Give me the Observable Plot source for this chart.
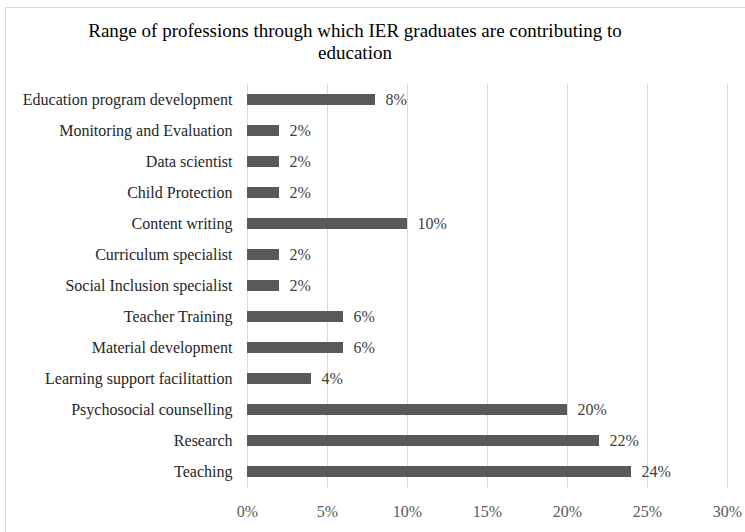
<!DOCTYPE html>
<html>
<head>
<meta charset="utf-8">
<script src="https://cdn.jsdelivr.net/npm/d3@7"></script>
<script src="https://cdn.jsdelivr.net/npm/@observablehq/plot@0.6"></script>
<style>
  html, body { margin: 0; padding: 0; background: #fff; }
  #wrap { position: relative; width: 745px; height: 532px; overflow: hidden; background: #fff; }
  #frame { position: absolute; left: 5px; top: 7px; width: 800px; height: 600px; border: 1px solid #d9d9d9; box-sizing: border-box; }
  #title { position: absolute; left: 0; width: 710px; top: 20px; text-align: center;
           font-family: "Liberation Serif", serif; font-size: 19px; line-height: 22px; color: #000; }
  #chart { position: absolute; left: 0; top: 0; }
</style>
</head>
<body>
<div id="wrap">
  <div id="frame"></div>
  <div id="chart"></div>
  <div id="title">Range of professions through which IER graduates are contributing to<br>education</div>
</div>
<script>
const categories = [
  "Education program development",
  "Monitoring and Evaluation",
  "Data scientist",
  "Child Protection",
  "Content writing",
  "Curriculum specialist",
  "Social Inclusion specialist",
  "Teacher Training",
  "Material development",
  "Learning support facilitattion",
  "Psychosocial counselling",
  "Research",
  "Teaching"
];
const values = [8, 2, 2, 2, 10, 2, 2, 6, 6, 4, 20, 22, 24];
const xTicks = [0, 5, 10, 15, 20, 25, 30];

const data = categories.map((c, i) => ({category: c, value: values[i]}));

const plot = Plot.plot({
  width: 745,
  height: 532,
  marginLeft: 247,
  marginRight: 18,
  marginTop: 83.5,
  marginBottom: 44.5,
  style: {fontFamily: "Liberation Serif, serif", fontSize: "16px", background: "transparent"},
  x: {domain: [0, 30], ticks: xTicks},
  y: {domain: categories, paddingInner: 0.64, paddingOuter: 0.32, align: 0.5},
  marks: [
    Plot.gridX(xTicks, {stroke: "#d9d9d9", strokeOpacity: 1, strokeWidth: 1}),
    Plot.barX(data, {x: "value", y: "category", fill: "#595959"}),
    Plot.text(data, {x: "value", y: "category", text: d => d.value + "%", textAnchor: "start", dx: 10, fill: "#404040", fontSize: 16}),
    Plot.axisX(xTicks, {tickSize: 0, tickPadding: 18, tickFormat: d => d + "%", fill: "#595959", fontSize: 16, label: null}),
    Plot.axisY({tickSize: 0, tickPadding: 15, fill: "#262626", fontSize: 16, label: null})
  ]
});
document.getElementById("chart").appendChild(plot);
</script>
</body>
</html>
